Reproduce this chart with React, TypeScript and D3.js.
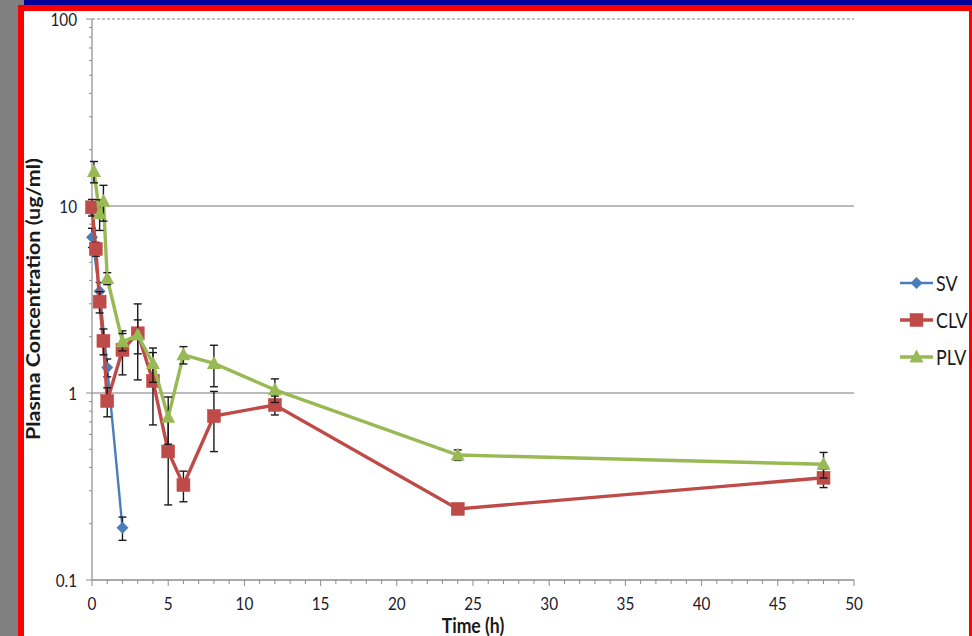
import React from "react";
import * as d3 from "d3";

const svTimes = [0, 0.5, 1, 2];
const svValues = [6.8, 3.5, 1.37, 0.19];
const svSd = [0.8, 0.4, 0.15, 0.027];

const clvTimes = [0, 0.25, 0.5, 0.75, 1, 2, 3, 4, 5, 6, 8, 12, 24, 48];
const clvValues = [9.84, 5.89, 3.08, 1.9, 0.906, 1.7, 2.085, 1.16, 0.487, 0.322, 0.753, 0.863, 0.24, 0.352];
const clvSd = [1.0, 0.5, 0.4, 0.3, 0.16, 0.45, 0.91, 0.485, 0.235, 0.06, 0.267, 0.1, 0.01, 0.04];

const plvTimes = [0.13, 0.5, 0.75, 1, 2, 3, 4, 5, 6, 8, 12, 24, 48];
const plvValues = [15.3, 9.1, 10.6, 4.1, 1.88, 2.04, 1.44, 0.742, 1.6, 1.44, 1.04, 0.466, 0.416];
const plvSd = [2.0, 1.7, 2.3, 0.3, 0.2, 0.42, 0.3, 0.21, 0.17, 0.36, 0.15, 0.03, 0.065];

const xTicks = [0, 5, 10, 15, 20, 25, 30, 35, 40, 45, 50];
const yTicks = [0.1, 1, 10, 100];
const yTickLabels = ["0.1", "1", "10", "100"];
const seriesNames = ["SV", "CLV", "PLV"];

const W = 972;
const H = 636;
const FONT = "Lato, 'Open Sans', sans-serif";

export default function App() {
  const x = d3.scaleLinear().domain([0, 50]).range([92, 854]);
  const y = d3.scaleLog().domain([0.1, 100]).range([580, 19]);

  const series = [
    { name: seriesNames[0], t: svTimes, v: svValues, sd: svSd, color: "#4a7ebb", marker: "diamond", lw: 2.4 },
    { name: seriesNames[1], t: clvTimes, v: clvValues, sd: clvSd, color: "#be4b48", marker: "square", lw: 3.4 },
    { name: seriesNames[2], t: plvTimes, v: plvValues, sd: plvSd, color: "#98b954", marker: "triangle", lw: 3.4 },
  ];

  const line = d3.line<[number, number]>().x((d) => x(d[0])).y((d) => y(d[1]));

  const marker = (kind: string, cx: number, cy: number, color: string, key: string) => {
    if (kind === "square") {
      return <rect key={key} x={cx - 6.5} y={cy - 6.5} width={13} height={13} fill={color} stroke={color} strokeWidth={0.5} />;
    }
    if (kind === "diamond") {
      return <path key={key} d={`M${cx},${cy - 6}L${cx + 6},${cy}L${cx},${cy + 6}L${cx - 6},${cy}Z`} fill={color} />;
    }
    return <path key={key} d={`M${cx},${cy - 7.5}L${cx + 7},${cy + 5.5}L${cx - 7},${cy + 5.5}Z`} fill={color} />;
  };

  const minorY: number[] = [];
  [0.1, 1, 10].forEach((dec) => {
    for (let k = 2; k <= 9; k++) minorY.push(dec * k);
  });
  const minorX = d3.range(0, 51, 1).filter((v) => v % 5 !== 0);

  return (
    <div style={{ position: "fixed", left: 0, top: 0, width: W, height: H }}>
      <svg width={W} height={H} style={{ display: "block" }}>
        <rect x={0} y={0} width={W} height={H} fill="#808080" />
        <rect x={24} y={0} width={W - 24} height={5} fill="#000099" />
        <rect x={18} y={5} width={W - 18} height={H - 5} fill="#ff0000" />
        <rect x={24} y={11} width={969 - 24} height={H - 11} fill="#ffffff" />

        {/* gridlines */}
        <line x1={92} x2={854} y1={y(100)} y2={y(100)} stroke="#b0b0b0" strokeWidth={1.5} strokeDasharray="3,2" />
        {[10, 1].map((v) => (
          <line key={v} x1={92} x2={854} y1={y(v)} y2={y(v)} stroke="#a6a6a6" strokeWidth={1.6} />
        ))}

        {/* axes */}
        <line x1={92} x2={92} y1={y(100)} y2={y(0.1)} stroke="#8c8c8c" strokeWidth={1.2} />
        <line x1={92} x2={854} y1={y(0.1)} y2={y(0.1)} stroke="#8c8c8c" strokeWidth={1.5} />
        {yTicks.map((v) => (
          <line key={"ymaj" + v} x1={86} x2={92} y1={y(v)} y2={y(v)} stroke="#8c8c8c" strokeWidth={1} />
        ))}
        {minorY.map((v) => (
          <line key={"ymin" + v} x1={89} x2={92} y1={y(v)} y2={y(v)} stroke="#8c8c8c" strokeWidth={1} />
        ))}
        {xTicks.map((v) => (
          <line key={"xmaj" + v} x1={x(v)} x2={x(v)} y1={580} y2={586} stroke="#8c8c8c" strokeWidth={1} />
        ))}
        {minorX.map((v) => (
          <line key={"xmin" + v} x1={x(v)} x2={x(v)} y1={580} y2={584} stroke="#8c8c8c" strokeWidth={1} />
        ))}

        {/* tick labels */}
        {yTicks.map((v, i) => (
          <text
            key={"yl" + v}
            transform={`translate(77,${y(v) + 6.5}) scale(0.85,1)`}
            textAnchor="end"
            fontFamily={FONT}
            fontSize={18}
            fill="#1a1a2a"
          >
            {yTickLabels[i]}
          </text>
        ))}
        {xTicks.map((v) => (
          <text
            key={"xl" + v}
            transform={`translate(${x(v)},610) scale(0.85,1)`}
            textAnchor="middle"
            fontFamily={FONT}
            fontSize={18}
            fill="#1a1a2a"
          >
            {v}
          </text>
        ))}

        {/* axis titles */}
        <text
          transform={`translate(473,633) scale(0.88,1)`}
          textAnchor="middle"
          fontFamily={FONT}
          fontWeight="bold"
          fontSize={20}
          fill="#1a1a1a"
        >
          Time (h)
        </text>
        <text
          transform={`translate(40,299) rotate(-90)`}
          textAnchor="middle"
          fontFamily={FONT}
          fontWeight="bold"
          fontSize={18}
          fill="#1a1a1a"
          textLength={282}
          lengthAdjust="spacingAndGlyphs"
        >
          Plasma Concentration (ug/ml)
        </text>

        {/* series */}
        {series.map((s) => {
          const pts: [number, number][] = s.t.map((t, i) => [t, s.v[i]]);
          return (
            <g key={s.name}>
              <path d={line(pts) || ""} fill="none" stroke={s.color} strokeWidth={s.lw} />
              {s.t.map((t, i) => {
                const cx = x(t);
                const top = y(s.v[i] + s.sd[i]);
                const bot = y(Math.max(s.v[i] - s.sd[i], 0.101));
                return (
                  <g key={"eb" + i} stroke="#1a1a1a" strokeWidth={1.4}>
                    <line x1={cx} x2={cx} y1={top} y2={bot} />
                    <line x1={cx - 4} x2={cx + 4} y1={top} y2={top} />
                    <line x1={cx - 4} x2={cx + 4} y1={bot} y2={bot} />
                  </g>
                );
              })}
              {s.t.map((t, i) => marker(s.marker, x(t), y(s.v[i]), s.color, "m" + i))}
            </g>
          );
        })}

        {/* legend */}
        {series.map((s, i) => {
          const ly = 283 + i * 37;
          return (
            <g key={"lg" + s.name}>
              <line x1={900} x2={933} y1={ly} y2={ly} stroke={s.color} strokeWidth={s.lw} />
              {marker(s.marker, 916.5, ly, s.color, "lm")}
              <text
                transform={`translate(936,${ly + 7.5}) scale(0.85,1)`}
                fontFamily={FONT}
                fontSize={21}
                fill="#1a1a1a"
              >
                {s.name}
              </text>
            </g>
          );
        })}

        {/* right red border on top */}
        <rect x={969} y={5} width={3} height={H - 5} fill="#ff0000" />
      </svg>
    </div>
  );
}
